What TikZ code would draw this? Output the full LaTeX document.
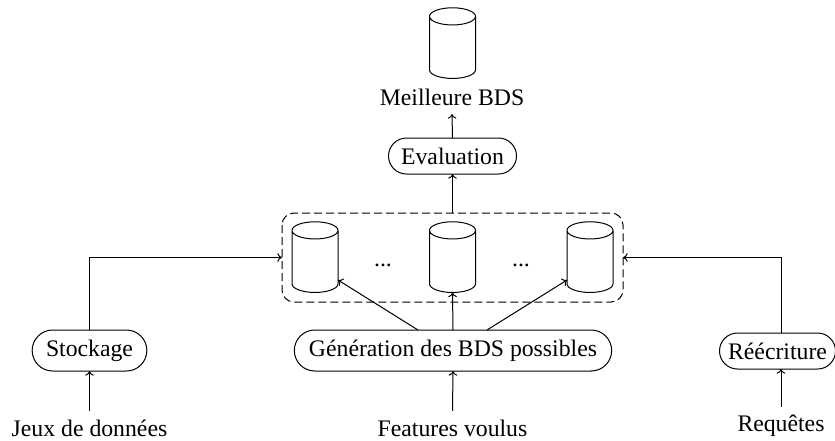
\documentclass[tikz,border=0pt]{standalone}
\usepackage{fontspec}
\setmainfont{Liberation Serif}
\usetikzlibrary{shapes.geometric,shapes.misc,arrows.meta}
\tikzset{
  px/.style={x=0.75pt,y=-0.75pt},
  db/.style={cylinder,shape border rotate=90,draw,shape aspect=2.3,minimum width=34.5pt,minimum height=53pt,inner sep=2.8pt,outer sep=0pt,line width=0.75pt},
  lab/.style={font=\fontsize{17.8}{20}\selectfont,inner sep=0pt,outer sep=6.5pt},
  pill/.style={rounded rectangle,draw,font=\fontsize{17.8}{20}\selectfont,inner sep=0pt,outer sep=0pt,line width=0.75pt,minimum height=27pt},
  conn/.style={-{To[length=3.5pt,width=6.5pt]},line width=0.75pt}
}
\begin{document}
\begin{tikzpicture}[px]
\useasboundingbox (0,0) rectangle (835,440);
\node[db] (top) at (452.5,50) {};
\node[lab] (best) at (452,97) {Meilleure BDS};
\node[pill,minimum width=96pt] (eval) at (452.5,156) {Evaluation};
\draw[dash pattern=on 6pt off 3pt,rounded corners=9pt,line width=0.75pt] (282,213) rectangle (623,302);
\coordinate (grpT) at (452.5,213);
\coordinate (grpL) at (282,257.5);
\coordinate (grpR) at (623,257.5);
\node[db] (d1) at (315,264) {};
\node[db] (d2) at (452.5,264) {};
\node[db] (d3) at (590,264) {};
\node[lab] (e1) at (383,265) {...};
\node[lab] (e2) at (521,265) {...};
\node[pill,minimum width=238pt,minimum height=30.75pt] (gen) at (453,350.5) {Génération des BDS possibles};
\node[pill,minimum width=86pt,minimum height=30.75pt] (sto) at (89.5,350.5) {Stockage};
\node[pill,minimum width=87pt] (ree) at (777.5,351) {Réécriture};
\node[lab] (jeu) at (89.5,428) {Jeux de données};
\node[lab] (fea) at (452.5,428) {Features voulus};
\node[lab] (req) at (781,426) {Requêtes};
\coordinate (genL) at (418,330);
\coordinate (genR) at (487,330);
\coordinate (d1in) at (338,280);
\coordinate (d3in) at (567,280);
\draw[conn] (eval.north) -- (best.south);
\draw[conn] (grpT) -- (eval.south);
\draw[conn] (fea.north) -- (gen.south);
\draw[conn] (jeu.north) -- (sto.south);
\draw[conn] (req.north) -- (req.north |- ree.south);
\draw[conn] (gen.north) -- (d2.south);
\draw[conn] (genL) -- (d1in);
\draw[conn] (genR) -- (d3in);
\draw[conn] (sto.north) |- (grpL);
\draw[conn] (req.north |- ree.north) |- (grpR);
\end{tikzpicture}
\end{document}
